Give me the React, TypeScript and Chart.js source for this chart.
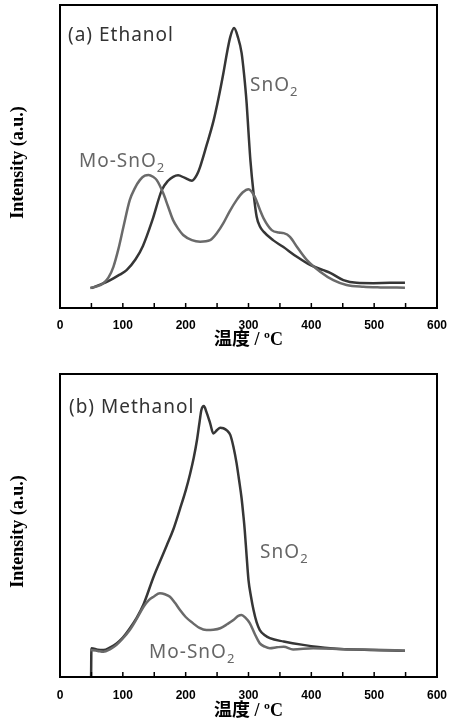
import React, { useEffect, useRef } from 'react';
import { Chart, registerables } from 'chart.js';

Chart.register(...registerables);

// ---------- x axis ----------
const tickLabels = [0, 100, 200, 300, 400, 500, 600];
const minorStep = 50;
const xTitle = '温度 / ºC';
const yTitle = 'Intensity (a.u.)';

// ---------- (a) Ethanol ----------
const ethSnO2Temp = [50, 65, 80, 95, 106, 120, 132, 147, 162, 172, 180, 188, 198, 210, 218, 223, 233, 244, 252, 260, 266, 271, 277, 283, 289, 293, 297, 300, 303, 308, 313, 318, 324, 339, 355, 377, 398, 419, 430, 451, 472, 499, 525, 549];
const ethSnO2Val = [6.6, 7.8, 9.2, 11, 12.5, 16, 20.5, 29, 38.9, 42, 43.3, 43.8, 43, 42, 44, 46.6, 53.5, 61.5, 69, 77.5, 84.5, 89.5, 92.4, 89.5, 84.2, 77, 67.7, 58, 48.8, 38, 30.1, 27, 25.2, 22.4, 20.2, 16.9, 14.2, 12.5, 11.6, 9.2, 8.3, 8.2, 8.3, 8.3];
const ethMoTemp = [48, 60, 69, 77, 85, 93, 101, 111, 119, 127, 135, 141, 148, 154, 164, 172, 180, 188, 196, 210, 223, 239, 250, 260, 270, 281, 291, 300, 310, 318, 324, 337, 348, 356, 366, 377, 393, 414, 435, 456, 483, 510, 549];
const ethMoVal = [6.6, 7.2, 8.2, 10, 13.6, 19.5, 26.8, 35.6, 39.5, 42.2, 43.7, 43.9, 43.3, 42.2, 38, 33.5, 29, 26.2, 24.1, 22.4, 21.9, 22.4, 24.8, 28, 31.9, 35.6, 38.2, 39.2, 36.7, 32.5, 29.6, 25.7, 24.9, 24.7, 23.5, 20.2, 15.8, 12, 9.2, 7.6, 7, 6.8, 6.7];

// ---------- (b) Methanol ----------
const metSnO2Temp = [49.5, 50, 60, 69, 80, 90, 100, 111, 122, 133, 149, 164, 170, 180, 191, 200, 207, 213, 218, 222, 225, 229, 233, 239, 244, 250, 255, 260, 266, 271, 276, 281, 285, 289, 292, 294, 297, 300, 304, 308, 313, 318, 326, 334, 356, 387, 430, 493, 549];
const metSnO2Val = [0.3, 9.5, 9, 8.9, 9.8, 11.1, 13, 16, 19.5, 24, 33.1, 40.5, 43.5, 48.5, 55.5, 61.5, 67, 72.5, 78.2, 84, 88.1, 89.4, 87.5, 83.7, 80.4, 81.5, 82.3, 82.1, 81.3, 79.9, 76, 70.6, 65, 59, 53, 48.5, 40, 32, 26.5, 22.1, 18, 15.5, 13.8, 12.8, 11.7, 10.6, 9.5, 8.9, 8.7];
const metMoTemp = [48, 60, 69, 80, 90, 100, 111, 122, 133, 141, 149, 159, 167, 175, 183, 191, 200, 212, 222, 233, 244, 255, 266, 276, 283, 289, 295, 302, 310, 318, 326, 334, 345, 356, 371, 403, 456, 500, 549];
const metMoVal = [8.9, 8.6, 8.3, 9.2, 10.6, 12.7, 15.5, 19.2, 23.2, 25.3, 26.5, 27.6, 27.3, 26.5, 24.5, 22.1, 19.8, 17.7, 16.2, 15.5, 15.6, 16.1, 17.4, 18.8, 20.1, 20.5, 19.6, 17.8, 14.2, 11.1, 10, 9.5, 9.8, 10, 9.1, 9.5, 9.1, 9, 8.7];

// ---------- text labels (data coordinates) ----------
type Label = { text: string; sub?: string; x: number; y: number; color: string };
const ethLabels: Label[] = [
  { text: '(a) Ethanol', x: 12.7, y: 88.1, color: '#333333' },
  { text: 'SnO', sub: '2', x: 302.5, y: 71.7, color: '#666666' },
  { text: 'Mo-SnO', sub: '2', x: 30.2, y: 46.6, color: '#666666' },
];
const metLabels: Label[] = [
  { text: '(b) Methanol', x: 14.3, y: 87.1, color: '#333333' },
  { text: 'SnO', sub: '2', x: 318.5, y: 39.3, color: '#666666' },
  { text: 'Mo-SnO', sub: '2', x: 141.7, y: 6.3, color: '#666666' },
];

const toXY = (xs: number[], ys: number[]) => xs.map((x, i) => ({ x, y: ys[i] }));

const panelPlugin = {
  id: 'panelDeco',
  afterDraw(chart: any, _args: any, opts: any) {
    const { ctx, chartArea } = chart;
    const { left, right, top, bottom } = chartArea;
    const xs = chart.scales.x;
    const ys = chart.scales.y;
    ctx.save();
    // frame
    ctx.strokeStyle = '#000';
    ctx.lineWidth = 2;
    ctx.strokeRect(left, top, right - left, bottom - top);
    // inward ticks
    ctx.lineWidth = 1.5;
    for (const t of xs.ticks) {
      const px = xs.getPixelForValue(t.value);
      ctx.beginPath();
      ctx.moveTo(px, bottom);
      ctx.lineTo(px, bottom - 5);
      ctx.stroke();
    }
    ctx.restore();

    // y title
    ctx.save();
    ctx.translate(18, (top + bottom) / 2 + 6);
    ctx.rotate(-Math.PI / 2);
    ctx.font = 'bold 18px "Liberation Serif", "Times New Roman", serif';
    ctx.fillStyle = '#000';
    ctx.textAlign = 'center';
    ctx.textBaseline = 'middle';
    ctx.fillText(yTitle, 0, 0);
    ctx.restore();

    // annotations
    const labels: Label[] = (opts && opts.labels) || [];
    for (const l of labels) {
      const px = xs.getPixelForValue(l.x);
      const py = ys.getPixelForValue(l.y);
      ctx.save();
      ctx.fillStyle = l.color;
      ctx.textAlign = 'left';
      ctx.textBaseline = 'alphabetic';
      ctx.font = '19px "Noto Sans", sans-serif';
      (ctx as any).letterSpacing = '1px';
      ctx.fillText(l.text, px, py);
      if (l.sub) {
        const w = ctx.measureText(l.text).width;
        ctx.font = '13px "Noto Sans", sans-serif';
        ctx.fillText(l.sub, px + w, py + 5);
      }
      ctx.restore();
    }
  },
};

type PanelProps = {
  snT: number[]; snV: number[]; moT: number[]; moV: number[];
  labels: Label[]; padTop: number; xAxisH: number; titlePadBottom: number; tickPad: number;
};

function Panel(p: PanelProps) {
  const ref = useRef<HTMLCanvasElement | null>(null);
  useEffect(() => {
    if (!ref.current) return;
    const chart = new Chart(ref.current, {
      type: 'line',
      data: {
        datasets: [
          {
            label: 'Mo-SnO2',
            data: toXY(p.moT, p.moV),
            borderColor: '#6a6a6a',
            borderWidth: 2.5,
            pointRadius: 0,
            cubicInterpolationMode: 'monotone',
            fill: false,
          },
          {
            label: 'SnO2',
            data: toXY(p.snT, p.snV),
            borderColor: '#363636',
            borderWidth: 2.5,
            pointRadius: 0,
            cubicInterpolationMode: 'monotone',
            fill: false,
          },
        ],
      },
      options: {
        animation: false,
        responsive: false,
        devicePixelRatio: 1,
        layout: { padding: { left: 60, right: 12, top: p.padTop, bottom: 0 } },
        plugins: {
          legend: { display: false },
          tooltip: { enabled: false },
          panelDeco: { labels: p.labels },
        } as any,
        scales: {
          x: {
            type: 'linear',
            min: 0,
            max: 600,
            grid: { display: false, drawTicks: false },
            border: { display: false },
            ticks: {
              stepSize: minorStep,
              autoSkip: false,
              maxRotation: 0,
              padding: p.tickPad,
              color: '#000',
              font: { family: '"Liberation Sans", Arial, sans-serif', size: 12, weight: 'bold' },
              callback: (v: any) => (tickLabels.includes(Number(v)) ? String(v) : ''),
            },
            title: {
              display: true,
              text: xTitle,
              color: '#000',
              font: { family: '"Liberation Serif", "Noto Sans CJK JP", serif', size: 18, weight: 'bold', lineHeight: 1.2 },
              padding: { top: 0, bottom: p.titlePadBottom },
            },
            afterFit: (s: any) => {
              s.height = p.xAxisH;
              s.paddingLeft = 0;
              s.paddingRight = 0;
            },
          } as any,
          y: {
            type: 'linear',
            min: 0,
            max: 100,
            display: false,
          },
        },
      },
      plugins: [panelPlugin],
    });
    return () => chart.destroy();
  }, []);
  return <canvas ref={ref} width={449} height={361} style={{ display: 'block', width: 449, height: 361 }} />;
}

export default function App() {
  return (
    <div style={{ position: 'absolute', left: 0, top: 0, width: 449, height: 722, background: '#fff' }}>
      <Panel snT={ethSnO2Temp} snV={ethSnO2Val} moT={ethMoTemp} moV={ethMoVal} labels={ethLabels}
        padTop={5} xAxisH={53} titlePadBottom={10} tickPad={10} />
      <Panel snT={metSnO2Temp} snV={metSnO2Val} moT={metMoTemp} moV={metMoVal} labels={metLabels}
        padTop={13} xAxisH={45} titlePadBottom={0} tickPad={11} />
    </div>
  );
}
